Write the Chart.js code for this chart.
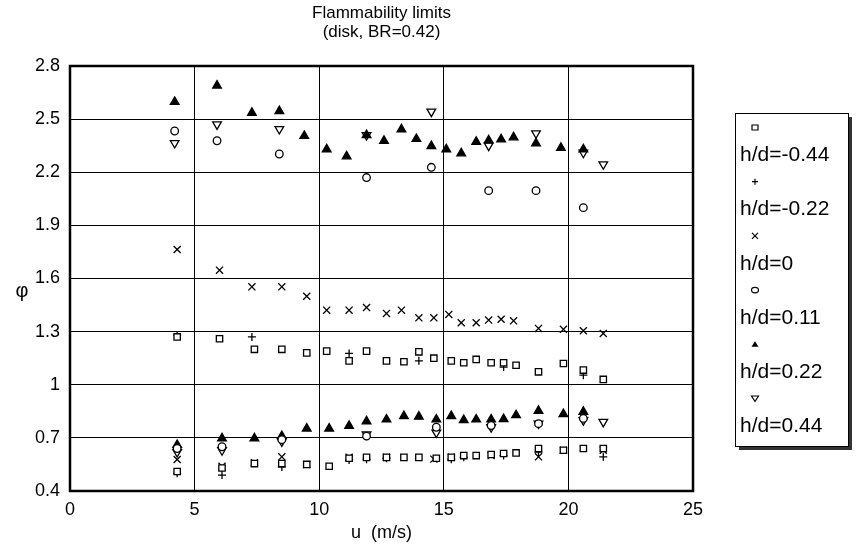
<!DOCTYPE html>
<html>
<head>
<meta charset="utf-8">
<script src="https://cdn.jsdelivr.net/npm/chart.js@4.4.0/dist/chart.umd.min.js"></script>
<style>
  html, body { margin: 0; padding: 0; background: #fff; }
</style>
</head>
<body>
<canvas id="chart" width="856" height="556"></canvas>
<script>
const xTicks = [0, 5, 10, 15, 20, 25]
const yTicks = [0.4, 0.7, 1, 1.3, 1.6, 1.9, 2.2, 2.5, 2.8]
const seriesNames = ['h/d=-0.44', 'h/d=-0.22', 'h/d=0', 'h/d=0.11', 'h/d=0.22', 'h/d=0.44']

// h/d=-0.44 (squares): rich branch then lean branch
const squareX = [4.3, 6.0, 7.4, 8.5, 9.5, 10.3, 11.2, 11.9, 12.7, 13.4, 14.0, 14.6, 15.3, 15.8, 16.3, 16.9, 17.4, 17.9, 18.8, 19.8, 20.6, 21.4,
    4.3, 6.1, 7.4, 8.5, 9.5, 10.4, 11.2, 11.9, 12.7, 13.4, 14.0, 14.7, 15.3, 15.8, 16.3, 16.9, 17.4, 17.9, 18.8, 19.8, 20.6, 21.4]
const squareY = [1.27, 1.26, 1.2, 1.2, 1.18, 1.19, 1.135, 1.19, 1.135, 1.13, 1.186, 1.15, 1.135, 1.124, 1.143, 1.124, 1.124, 1.11, 1.073, 1.12, 1.083, 1.03,
    0.51, 0.53, 0.555, 0.555, 0.55, 0.54, 0.585, 0.59, 0.59, 0.59, 0.59, 0.585, 0.59, 0.6, 0.6, 0.606, 0.612, 0.615, 0.64, 0.63, 0.64, 0.64]

// h/d=-0.22 (plus)
const plusX = [4.3, 7.3, 11.2, 14.0, 17.4, 20.6,
    4.3, 6.1, 8.5, 11.2, 11.9, 12.7, 15.3, 15.8, 17.4, 18.8, 21.4]
const plusY = [1.28, 1.27, 1.177, 1.135, 1.10, 1.054,
    0.5, 0.49, 0.536, 0.575, 0.58, 0.585, 0.58, 0.59, 0.6, 0.62, 0.593]

// h/d=0 (x)
const crossX = [4.3, 6.0, 7.3, 8.5, 9.5, 10.3, 11.2, 11.9, 12.7, 13.3, 14.0, 14.6, 15.2, 15.7, 16.3, 16.8, 17.3, 17.8, 18.8, 19.8, 20.6, 21.4,
    4.3, 6.1, 7.4, 8.5, 9.5, 11.2, 12.7, 14.6, 15.3, 16.9, 18.8, 19.8, 21.4]
const crossY = [1.764, 1.647, 1.553, 1.553, 1.5, 1.421, 1.421, 1.436, 1.403, 1.421, 1.378, 1.378, 1.397, 1.35, 1.35, 1.365, 1.37, 1.361, 1.318, 1.313, 1.305, 1.29,
    0.578, 0.54, 0.56, 0.593, 0.55, 0.59, 0.59, 0.58, 0.59, 0.6, 0.593, 0.63, 0.63]

// h/d=0.11 (circles)
const circleX = [4.2, 5.9, 8.4, 11.9, 14.5, 16.8, 18.7, 20.6,
    4.3, 6.1, 8.5, 11.9, 14.7, 16.9, 18.8, 20.6]
const circleY = [2.433, 2.378, 2.303, 2.17, 2.228, 2.096, 2.096, 2.0,
    0.64, 0.65, 0.69, 0.71, 0.76, 0.77, 0.78, 0.81]

// h/d=0.22 (filled triangles)
const triUpX = [4.2, 5.9, 7.3, 8.4, 9.4, 10.3, 11.1, 11.9, 12.6, 13.3, 13.9, 14.5, 15.1, 15.7, 16.3, 16.8, 17.3, 17.8, 18.7, 19.7, 20.6,
    4.3, 6.1, 7.4, 8.5, 9.5, 10.4, 11.2, 11.9, 12.7, 13.4, 14.0, 14.7, 15.3, 15.8, 16.3, 16.9, 17.4, 17.9, 18.8, 19.8, 20.6]
const triUpY = [2.597, 2.69, 2.536, 2.546, 2.405, 2.33, 2.29, 2.41, 2.378, 2.442, 2.388, 2.348, 2.33, 2.307, 2.372, 2.38, 2.386, 2.397, 2.363, 2.338, 2.33,
    0.66, 0.697, 0.697, 0.71, 0.753, 0.753, 0.768, 0.794, 0.804, 0.823, 0.82, 0.804, 0.823, 0.8, 0.804, 0.804, 0.806, 0.828, 0.853, 0.834, 0.847]

// h/d=0.44 (open down triangles)
const triDownX = [4.2, 5.9, 8.4, 11.9, 14.5, 16.8, 18.7, 20.6, 21.4,
    4.3, 6.1, 8.5, 11.9, 14.7, 16.9, 18.8, 20.6, 21.4]
const triDownY = [2.365, 2.47, 2.444, 2.41, 2.542, 2.35, 2.42, 2.31, 2.245,
    0.62, 0.63, 0.68, 0.72, 0.73, 0.76, 0.781, 0.80, 0.79]

const FONT = "'Liberation Sans', Arial, sans-serif"

function toPoints(xs, ys) {
    return xs.map((x, i) => ({ x: x, y: ys[i] }))
}

const MARKERS = [
    { pointStyle: 'rect', pointRadius: 4.5, fill: false, rotation: 0 },
    { pointStyle: 'cross', pointRadius: 4, fill: false, rotation: 0 },
    { pointStyle: 'crossRot', pointRadius: 5, fill: false, rotation: 0 },
    { pointStyle: 'circle', pointRadius: 3.8, fill: false, rotation: 0 },
    { pointStyle: 'triangle', pointRadius: 5, fill: true, rotation: 0 },
    { pointStyle: 'triangle', pointRadius: 5, fill: false, rotation: 180 }
]
const allX = [squareX, plusX, crossX, circleX, triUpX, triDownX]
const allY = [squareY, plusY, crossY, circleY, triUpY, triDownY]

const datasets = seriesNames.map((name, i) => ({
    label: name,
    data: toPoints(allX[i], allY[i]),
    pointStyle: MARKERS[i].pointStyle,
    pointRadius: MARKERS[i].pointRadius,
    pointRotation: MARKERS[i].rotation,
    borderColor: '#000',
    backgroundColor: MARKERS[i].fill ? '#000' : '#fff',
    pointBorderWidth: 1.3,
    showLine: false
}))

// draws a marker in the legend box using the same shapes as the points
function drawMarker(ctx, style, x, y) {
    ctx.save()
    ctx.strokeStyle = '#000'
    ctx.fillStyle = '#000'
    ctx.lineWidth = 1.2
    ctx.beginPath()
    if (style === 0) {
        ctx.rect(x - 3, y - 2.5, 6, 5)
        ctx.stroke()
    } else if (style === 1) {
        ctx.moveTo(x - 3, y); ctx.lineTo(x + 3, y)
        ctx.moveTo(x, y - 3); ctx.lineTo(x, y + 3)
        ctx.stroke()
    } else if (style === 2) {
        ctx.moveTo(x - 3, y - 3); ctx.lineTo(x + 3, y + 3)
        ctx.moveTo(x + 3, y - 3); ctx.lineTo(x - 3, y + 3)
        ctx.stroke()
    } else if (style === 3) {
        ctx.ellipse(x, y, 3.5, 2.8, 0, 0, Math.PI * 2)
        ctx.stroke()
    } else if (style === 4) {
        ctx.moveTo(x, y - 3); ctx.lineTo(x + 3.5, y + 2.5); ctx.lineTo(x - 3.5, y + 2.5)
        ctx.closePath()
        ctx.fill()
    } else {
        ctx.moveTo(x, y + 3); ctx.lineTo(x + 3.5, y - 2.5); ctx.lineTo(x - 3.5, y - 2.5)
        ctx.closePath()
        ctx.stroke()
    }
    ctx.restore()
}

const decorations = {
    id: 'decorations',
    afterDraw(chart) {
        const ctx = chart.ctx
        const a = chart.chartArea
        ctx.save()
        // plot frame
        ctx.strokeStyle = '#000'
        ctx.lineWidth = 2.5
        ctx.strokeRect(a.left, a.top, a.right - a.left, a.bottom - a.top)

        // title
        ctx.fillStyle = '#000'
        ctx.textAlign = 'center'
        ctx.textBaseline = 'middle'
        ctx.font = '17px ' + FONT
        const cx = (a.left + a.right) / 2
        ctx.fillText('Flammability limits', cx, 13)
        ctx.fillText('(disk, BR=0.42)', cx, 32)

        // axis titles
        ctx.font = '18px ' + FONT
        ctx.fillText('u  (m/s)', cx, 533)
        ctx.font = '20px ' + FONT
        ctx.fillText('\u03C6', 22, 291)

        // legend box with shadow
        const lx = 735, ly = 113, lw = 113, lh = 333
        ctx.fillStyle = '#333'
        ctx.fillRect(lx + 4, ly + 4, lw, lh)
        ctx.fillStyle = '#fff'
        ctx.fillRect(lx, ly, lw, lh)
        ctx.lineWidth = 1
        ctx.strokeStyle = '#000'
        ctx.strokeRect(lx + 0.5, ly + 0.5, lw, lh)

        ctx.font = '21px ' + FONT
        ctx.textAlign = 'left'
        seriesNames.forEach((name, i) => {
            const y0 = 127.5 + i * 54.2
            drawMarker(ctx, i, 755, y0)
            ctx.fillStyle = '#000'
            ctx.fillText(name, 740, y0 + 28)
        })
        ctx.restore()
    }
}

new Chart(document.getElementById('chart'), {
    type: 'scatter',
    data: { datasets: datasets },
    options: {
        responsive: false,
        animation: false,
        layout: { padding: { top: 66, right: 163, left: 0, bottom: 0 } },
        plugins: {
            legend: { display: false },
            title: { display: false },
            tooltip: { enabled: false }
        },
        scales: {
            x: {
                type: 'linear',
                min: 0,
                max: 25,
                afterBuildTicks: s => { s.ticks = xTicks.map(v => ({ value: v })) },
                afterFit: s => { s.height = 65 },
                grid: { color: '#000', lineWidth: 1, drawTicks: false },
                border: { color: '#000', width: 2 },
                ticks: { color: '#000', font: { family: FONT, size: 18 }, padding: 8, maxRotation: 0 }
            },
            y: {
                type: 'linear',
                min: 0.4,
                max: 2.8,
                afterBuildTicks: s => { s.ticks = yTicks.map(v => ({ value: v })) },
                afterFit: s => { s.width = 70 },
                grid: { color: '#000', lineWidth: 1, drawTicks: false },
                border: { color: '#000', width: 2 },
                ticks: {
                    color: '#000',
                    font: { family: FONT, size: 18 },
                    padding: 10,
                    callback: v => String(Math.round(v * 10) / 10)
                }
            }
        }
    },
    plugins: [decorations]
})
</script>
</body>
</html>
